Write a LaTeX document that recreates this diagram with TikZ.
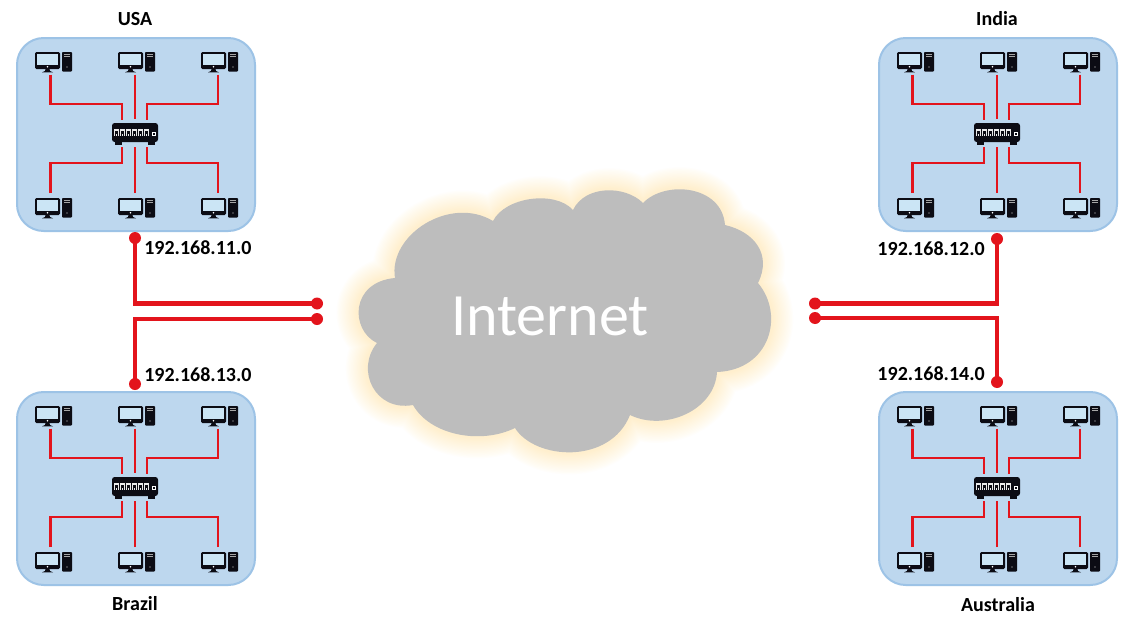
\documentclass[tikz,border=0pt]{standalone}
\usepackage{fontspec}
\setmainfont{Carlito}
\definecolor{lan}{HTML}{E3141C}
\definecolor{boxfill}{HTML}{BDD7EE}
\definecolor{boxedge}{HTML}{9DC3E6}
\definecolor{cloudgrey}{HTML}{BDBDBD}
\definecolor{glowc}{HTML}{FFDD8A}
\definecolor{ink}{HTML}{0C0C14}
\definecolor{screenc}{HTML}{CBE5F5}
\tikzset{
  x=0.75pt,y=-0.75pt,
  sitebox/.style={draw=boxedge,fill=boxfill,line width=1.5pt,rounded corners=20pt,outer sep=0pt},
  lanline/.style={draw=lan,line width=1.8pt},
  wanline/.style={draw=lan,line width=3.2pt,line join=miter},
  wandot/.style={circle,fill=lan,inner sep=0pt,minimum size=9pt},
  sitelabel/.style={font=\bfseries\fontsize{15}{18}\selectfont,inner sep=0pt,text=black},
  computer/.pic={
    \fill[ink,rounded corners=1pt] (0,1) rectangle (25,18);
    \fill[screenc] (2,3) rectangle (23,13.5);
    \fill[white] (12.5,15.7) circle (0.9);
    \fill[ink] (10.5,18) -- (14.5,18) -- (15,20) -- (18,21.3) -- (7,21.3) -- (10,20) -- cycle;
    \fill[ink,rounded corners=0.6pt] (27,1) rectangle (37,20.5);
    \fill[gray!70] (29,3) rectangle (35,3.7);
    \fill[gray!70] (29,5) rectangle (35,5.6);
    \fill[white!85!black] (32,16) circle (0.7);
    \coordinate (-n) at (#1,-4);
    \coordinate (-s) at (#1,23.5);
  },
  switchbox/.pic={
    \fill[ink,rounded corners=2pt] (112,123) rectangle (158,142);
    \fill[ink] (115,142) rectangle (122,144.5);
    \fill[ink] (148,142) rectangle (155,144.5);
    \foreach \px in {113.5,119.5,125.5,131.5,137.5,143.5}{
      \fill[white!92!black] (\px,129) rectangle ++(5.6,6.8);
      \fill[ink] (\px+1.1,130.8) rectangle ++(3.4,3.2);
      \fill[ink] (\px+1.1,134) rectangle ++(1,1.8);
      \fill[ink] (\px+3.5,134) rectangle ++(1,1.8);
    }
    \fill[white] (152,131.5) rectangle (156,136);
    \fill[ink] (153,132.6) rectangle (155,134.9);
    \coordinate (-t1) at (122,120); \coordinate (-k1) at (122,104);
    \coordinate (-t2) at (135,119);
    \coordinate (-t3) at (147,120); \coordinate (-k3) at (147,104);
    \coordinate (-b1) at (122,147); \coordinate (-j1) at (122,163);
    \coordinate (-b2) at (135,147);
    \coordinate (-b3) at (147,147); \coordinate (-j3) at (147,163);
  }
}
\newcommand{\lansite}[3]{%
  \begin{scope}[shift={(#2,#3)}]
    \node[sitebox,minimum width=178.5pt,minimum height=144.75pt,inner sep=0pt,anchor=north west] (#1box) at (17,38) {};
    \pic (#1s) at (0,0) {switchbox};
    \pic (#1a) at (35,51) {computer=15.5};
    \pic (#1b) at (118,51) {computer=17};
    \pic (#1c) at (201,51) {computer=17};
    \pic (#1d) at (35,197) {computer=15.5};
    \pic (#1e) at (118,197) {computer=17};
    \pic (#1f) at (201,197) {computer=17};
    \draw[lanline] (#1a-s) |- (#1s-k1) -- (#1s-t1);
    \draw[lanline] (#1b-s) -- (#1s-t2);
    \draw[lanline] (#1c-s) |- (#1s-k3) -- (#1s-t3);
    \draw[lanline] (#1d-n) |- (#1s-j1) -- (#1s-b1);
    \draw[lanline] (#1e-n) -- (#1s-b2);
    \draw[lanline] (#1f-n) |- (#1s-j3) -- (#1s-b3);
  \end{scope}}
\def\cloudpath{(395,278) .. controls (388,235) and (450,195) .. (493,221)
  .. controls (505,197) and (555,190) .. (573,210)
  .. controls (585,185) and (625,185) .. (643,203)
  .. controls (665,180) and (722,185) .. (725,225)
  .. controls (755,232) and (772,255) .. (758,283)
  .. controls (785,315) and (770,370) .. (717,372)
  .. controls (715,410) and (665,432) .. (630,415)
  .. controls (610,465) and (535,460) .. (515,428)
  .. controls (480,445) and (430,435) .. (413,405)
  .. controls (375,412) and (355,370) .. (377,343)
  .. controls (350,330) and (350,282) .. (395,278) -- cycle}
\begin{document}
\begin{tikzpicture}
\useasboundingbox (0,0) rectangle (1136,628);
\fill[white] (0,0) rectangle (1136,628);
% cloud with soft glow
\foreach \w in {33,31,29,27,25,23,21,19,17,15,13,11,9,7,5,3}{
  \draw[glowc,line width=\w pt,opacity=0.028,line join=round] \cloudpath;
}
\fill[cloudgrey] \cloudpath;
\node[text=white,font=\fontsize{45}{50}\selectfont,inner sep=0pt] (inet) at (550,316) {Internet};
% sites
\lansite{usa}{0}{0}
\lansite{ind}{862}{0}
\lansite{bra}{0}{354}
\lansite{aus}{862}{354}
% labels
\node[sitelabel] (lusa) at (135,19) {USA};
\node[sitelabel] (lind) at (997,19) {India};
\node[sitelabel] (lbra) at (135,604) {Brazil};
\node[sitelabel] (laus) at (998,605) {Australia};
\node[sitelabel,anchor=west] (ipa) at (144,248) {192.168.11.0};
\node[sitelabel,anchor=west] (ipb) at (144,375) {192.168.13.0};
\node[sitelabel,anchor=east] (ipc) at (985,249) {192.168.12.0};
\node[sitelabel,anchor=east] (ipd) at (985,374) {192.168.14.0};
% WAN links
\node[wandot] (usaup) at (135,238) {};
\node[wandot] (usawan) at (317,303.5) {};
\node[wandot] (braup) at (135,384) {};
\node[wandot] (brawan) at (317,319) {};
\node[wandot] (indup) at (997,239) {};
\node[wandot] (indwan) at (815,303.5) {};
\node[wandot] (ausup) at (997,382) {};
\node[wandot] (auswan) at (815,318) {};
\draw[wanline] (usaup.center) |- (usawan.center);
\draw[wanline] (braup.center) |- (brawan.center);
\draw[wanline] (indup.center) |- (indwan.center);
\draw[wanline] (ausup.center) |- (auswan.center);
\end{tikzpicture}
\end{document}
